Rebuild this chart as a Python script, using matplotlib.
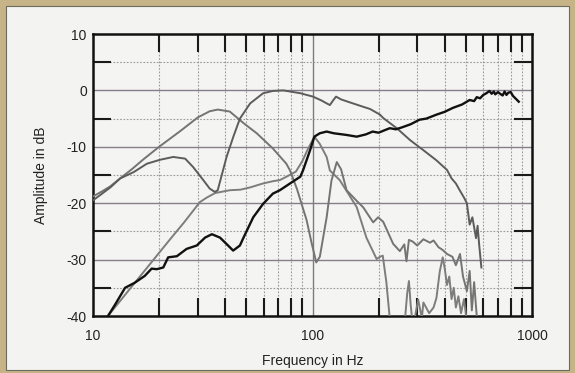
import matplotlib
matplotlib.use("Agg")
import matplotlib.pyplot as plt
from matplotlib.patches import Rectangle
from matplotlib.ticker import FixedLocator, NullFormatter

plt.rcParams['font.family'] = ['Liberation Sans', 'DejaVu Sans']
plt.rcParams['axes.unicode_minus'] = False

# curve A (grey, hump at ~37 Hz, second hump at ~129 Hz)
fA = [10, 11, 12, 13, 15, 17, 20, 25, 30, 34, 37, 42, 48.5, 55.7, 66, 76, 79, 85, 94, 99, 104, 108,
      116, 122, 129, 135, 143, 160, 170, 189, 199, 210, 233, 250, 262, 268, 275, 286, 300, 320, 343,
      356, 375, 392, 410, 434, 450, 470, 485, 505, 520, 532, 545, 560]
dbA = [-18.8, -17.9, -17.0, -15.9, -14.0, -12.2, -10.0, -7.2, -4.8, -3.7, -3.4, -3.75, -5.8, -7.6,
       -10.3, -13.0, -14.2, -17.5, -23.0, -27.0, -30.5, -29.5, -22.5, -16.0, -12.7, -14.0, -17.7,
       -19.7, -20.7, -23.4, -22.5, -23.3, -27.2, -28.5, -27.3, -30.3, -26.5, -26.8, -27.5, -26.4,
       -27.0, -26.6, -27.8, -28.3, -29.0, -29.5, -31.0, -29.0, -33.0, -35.6, -32.0, -39.0, -34.0, -40.0]

# curve B (grey, straight rise, peak at 100 Hz)
fB = [11.7, 13, 15, 17, 20, 23, 26, 30.7, 33, 36, 42, 47, 52, 59.5, 66, 71, 77, 84, 90, 95, 102,
      108, 116, 120, 133, 145, 159, 176, 196, 203, 209, 217, 225, 240, 262, 270, 275, 280, 287,
      303, 315, 320, 340, 356, 367, 380, 392, 400, 410, 420, 430, 440, 450, 462, 475, 490, 505, 520]
dbB = [-40, -37.8, -34.8, -32.2, -28.8, -25.9, -23.4, -19.8, -19.0, -18.2, -17.7, -17.6, -17.2,
       -16.5, -16.1, -15.9, -15.2, -14.4, -12.5, -10.5, -8.2, -9.5, -11.8, -14.2, -15.9, -18.2,
       -20.7, -26.1, -29.9, -29.5, -29.3, -34.0, -40.5, -44, -42, -36, -33.8, -38, -42, -37.1,
       -40.4, -37.6, -39.5, -38.5, -36.8, -32.1, -29.6, -31.5, -34.5, -33.0, -37.0, -35.0, -38.5,
       -36.5, -39.5, -37.0, -41.0, -45.0]

# curve C (dark grey, dip at 35 Hz, 0 dB at 75 Hz)
fC = [10, 11, 12, 13.3, 15.3, 17.6, 20.2, 23.2, 26.3, 28.6, 31.8, 34, 35.9, 37, 40.6, 43.6, 46.7,
      52, 59.6, 66, 73.6, 88, 100.5, 110, 116, 120, 124, 128, 135, 150, 170, 183, 203, 210, 242,
      278, 320, 367, 410, 430, 450, 470, 490, 505, 520, 535, 556, 565, 575, 588]
dbC = [-19.5, -18.3, -17.2, -15.6, -14.5, -13.0, -12.3, -11.8, -12.1, -13.6, -15.9, -17.4, -18.0,
       -17.7, -11.8, -8.2, -5.0, -2.3, -0.5, -0.1, 0.0, -0.5, -1.1, -1.8, -2.3, -2.6, -1.8, -1.1,
       -1.6, -2.2, -2.9, -3.3, -4.3, -4.9, -6.7, -8.8, -10.6, -12.4, -14.1, -15.6, -16.5, -17.8,
       -19.0, -20.0, -23.8, -22.5, -26.2, -24.0, -27.5, -31.4]

# black curve
fK = [11.7, 12.6, 14, 15.5, 17.2, 18.5, 19.5, 20.9, 22, 24.1, 26.7, 29.7, 32.4, 34.8, 37.9, 40.5,
      43.5, 46.7, 48.5, 53.7, 59.6, 66, 71, 79, 88, 90.5, 97.5, 102, 108, 116, 125, 143, 159, 175,
      188, 200, 215, 225, 240, 258, 280, 307, 330, 367, 400, 436, 480, 520, 545, 560, 580, 600,
      620, 640, 655, 670, 680, 700, 716, 735, 750, 765, 780, 800, 820, 835, 850, 870]
dbK = [-40, -38, -35, -34.1, -32.9, -31.6, -31.7, -31.4, -29.6, -29.4, -28.1, -27.5, -26.1, -25.5,
       -26.1, -27.2, -28.4, -27.5, -26.1, -22.5, -20.1, -18.3, -17.7, -16.5, -15.3, -14.2, -10.6,
       -8.2, -7.6, -7.3, -7.6, -7.9, -8.2, -7.8, -7.3, -7.5, -7.0, -6.7, -6.9, -6.5, -6.0, -5.2,
       -5.0, -4.3, -3.8, -3.1, -2.5, -1.7, -1.9, -1.2, -1.4, -0.8, -0.5, -0.1, -0.6, -0.2, -0.7,
       -0.3, -0.6, -0.9, -0.2, -0.8, -0.4, -0.3, -1.0, -1.3, -1.6, -2.0]

xminor = [20, 30, 40, 50, 60, 70, 80, 90, 200, 300, 400, 500, 600, 700, 800, 900]
yminor = [-35, -25, -15, -5, 5]

W, H = 575, 373
fig = plt.figure(figsize=(W / 100, H / 100), dpi=100)
fig.patch.set_facecolor('#c6b388')
fig.patches.append(Rectangle((6 / W, 3 / H), 1 - 12 / W, 1 - 9 / H, transform=fig.transFigure,
                             facecolor='#f3f3f1', edgecolor='#6e6a5e', linewidth=0.8,
                             zorder=-10, figure=fig))

ax = fig.add_axes([93 / W, 1 - 316 / H, (532 - 93) / W, (316 - 34) / H])
ax.set_facecolor('#f4f4f2')
ax.set_xscale('log')
ax.set_xlim(10, 1000)
ax.set_ylim(-40, 10)

# grid
for y in [-30, -20, -10, 0]:
    ax.axhline(y, color='#847e8a', lw=1.0, zorder=1)
ax.axvline(100, color='#7e7a80', lw=1.0, zorder=1)
for y in yminor:
    ax.axhline(y, color='#9a9a9a', lw=0.8, ls=(0, (1.5, 1.5)), zorder=1)
for x in xminor:
    ax.axvline(x, color='#9a9a9a', lw=0.8, ls=(0, (1.5, 1.5)), zorder=1)

ax.plot(fB, dbB, color='#7d7d7d', lw=1.4, zorder=3)
ax.plot(fA, dbA, color='#747474', lw=1.4, zorder=3)
ax.plot(fC, dbC, color='#5c5c5c', lw=1.4, zorder=3)
ax.plot(fK, dbK, color='#111111', lw=1.7, zorder=4)

ax.xaxis.set_major_locator(FixedLocator([10, 100, 1000]))
ax.xaxis.set_minor_locator(FixedLocator(xminor))
ax.xaxis.set_minor_formatter(NullFormatter())
ax.set_xticklabels(['10', '100', '1000'])
ax.yaxis.set_major_locator(FixedLocator([-40, -30, -20, -10, 0, 10]))
ax.yaxis.set_minor_locator(FixedLocator(yminor))

ax.tick_params(which='major', length=0, labelsize=10, labelcolor='#222222')
ax.tick_params(axis='x', which='major', pad=9)
ax.tick_params(axis='y', which='major', pad=4.5)
ax.tick_params(which='minor', direction='in', length=13, width=1.5, color='#1a1a1a',
               top=True, bottom=True, left=True, right=True)

for s in ax.spines.values():
    s.set_linewidth(1.8)
    s.set_color('#111111')

ax.set_xlabel('Frequency in Hz', fontsize=10, color='#222222', labelpad=8)
ax.set_ylabel('Amplitude in dB', fontsize=10, color='#222222', labelpad=13)

plt.savefig('out.png', dpi=100, facecolor=fig.get_facecolor())
